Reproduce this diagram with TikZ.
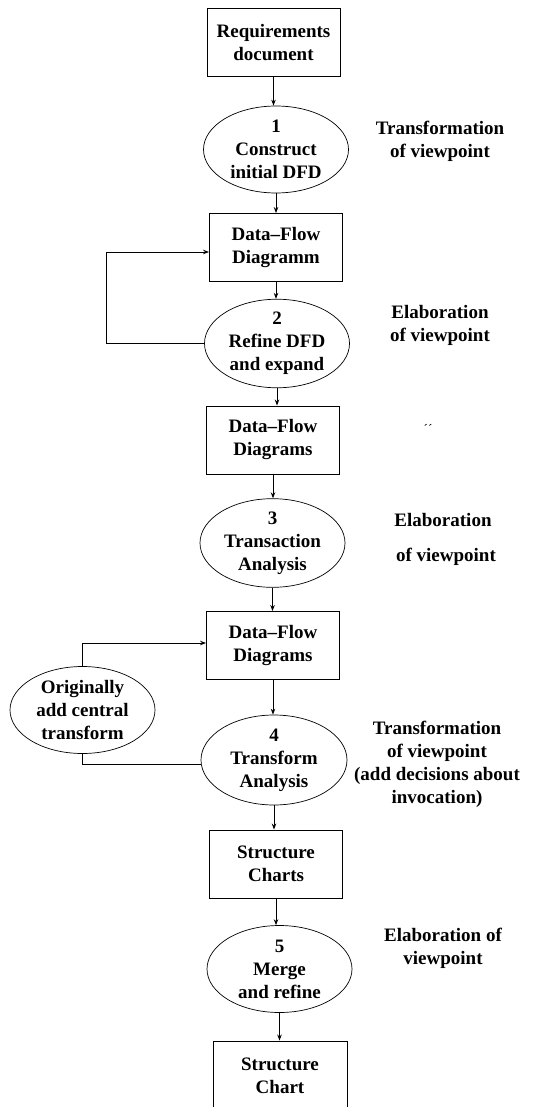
\documentclass[tikz,border=0pt]{standalone}
\usepackage{fontspec}
\setmainfont{Liberation Serif}
\usetikzlibrary{shapes.geometric,arrows.meta}
\begin{document}
\begin{tikzpicture}[x=1pt,y=-1pt,
  txt/.style={font=\bfseries\fontsize{19}{23}\selectfont, align=center, inner sep=0pt},
  boxnode/.style={txt, draw, line width=0.9pt, minimum width=133pt, minimum height=68pt},
  procnode/.style={txt, ellipse, draw, line width=0.7pt, minimum width=145pt, minimum height=87pt},
  arr/.style={line width=0.9pt, -{Stealth[length=6pt,width=4.5pt]}},
  ln/.style={line width=0.9pt}]
\clip (0,0) rectangle (541,1107);
\fill[white] (0,0) rectangle (541,1107);
% main column
\node[boxnode] (b1) at (273.5,42.5) {Requirements\\document};
\node[procnode] (e1) at (276,149.5) {1\\Construct\\initial DFD};
\node[boxnode] (b2) at (276,247.5) {Data--Flow\\Diagramm};
\node[procnode] (e2) at (277,343.5) {2\\Refine DFD\\and expand};
\node[boxnode] (b3) at (273,440) {Data--Flow\\Diagrams};
\node[procnode] (e3) at (272.5,543) {3\\Transaction\\Analysis};
\node[boxnode] (b4) at (273,645.5) {Data--Flow\\Diagrams};
\node[procnode, minimum width=146pt, minimum height=90pt] (e4) at (274,760) {4\\Transform\\Analysis};
\node[boxnode] (b5) at (276,864) {Structure\\Charts};
\node[procnode] (e5) at (279.5,969) {5\\Merge\\and refine};
\node[boxnode, minimum width=134pt, minimum height=69pt] (b6) at (280,1075.5) {Structure\\Chart};
\node[procnode] (orig) at (82.5,710) {Originally\\add central\\transform};
% side labels
\node[txt] (l1) at (440,141) {Transformation\\of viewpoint};
\node[txt] (l2) at (440,325) {Elaboration\\of viewpoint};
\node[txt] (l3a) at (443,520) {Elaboration};
\node[txt] (l3b) at (446,557) {of viewpoint};
\node[txt, font=\fontsize{13}{13}\selectfont] (l2b) at (428,429) {\char"00B4\char"00B4};
\node[txt] (l4) at (437,764) {Transformation\\of viewpoint\\(add decisions about\\invocation)};
\node[txt] (l5) at (443,948) {Elaboration of\\viewpoint};
% arrows
\draw[arr] (b1.south) -- (b1.south |- e1.north);
\draw[arr] (e1.south) -- (e1.south |- b2.north);
\draw[arr] (b2.south) -- (b2.south |- e2.north);
\draw[arr] (e2.south) -- (e2.south |- b3.north);
\draw[arr] (b3.south) -- (b3.south |- e3.north);
\draw[arr] (e3.south) -- (e3.south |- b4.north);
\draw[arr] (b4.south) -- (b4.south |- e4.north);
\draw[arr] (e4.south) -- (e4.south |- b5.north);
\draw[arr] (b5.south) -- (b5.south |- e5.north);
\draw[arr] (e5.south) -- (e5.south |- b6.north);
% loops
\draw[arr] (e2.west) -- (106,343.5) |- ([yshift=-4.5pt]b2.west);
\draw[arr] (orig.north) |- ([yshift=2.5pt]b4.west);
\draw[ln] (orig.south) |- ([yshift=-4pt]e4.west);
\end{tikzpicture}
\end{document}
